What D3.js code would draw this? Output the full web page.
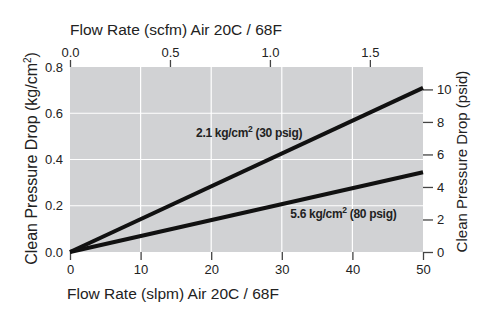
<!DOCTYPE html>
<html>
<head>
<meta charset="utf-8">
<script src="https://cdn.jsdelivr.net/npm/d3@7"></script>
<style>
  body { margin: 0; background: #fff; }
  svg text { font-family: "Liberation Sans", Arial, sans-serif; fill: #222; }
</style>
</head>
<body>
<div id="viz"></div>
<script>
// dimensions and margin of the svg
const width = 500
const height = 332
const margin = {left: 70, top: 67, right: 77, bottom: 80}

const g_width = width - margin.left - margin.right;
const g_height = height - margin.top - margin.bottom;

// data: flow (slpm) vs pressure drop (kg/cm2)
const flowSlpm = [0, 50];
const drop30psig = [0, 0.71];
const drop80psig = [0, 0.345];
const seriesLabels = ["2.1 kg/cm", "5.6 kg/cm"];
const seriesSuffix = [" (30 psig)", " (80 psig)"];
const labelAt = [[17.85, 0.497], [31.2, 0.147]];

const bottomTicks = [0, 10, 20, 30, 40, 50];
const leftTicks = [0, 0.2, 0.4, 0.6, 0.8];
const rightTicks = [0, 2, 4, 6, 8, 10];
const topTicks = [0, 0.5, 1.0, 1.5];

var svg = d3.select("#viz")
        .append("svg")
        .attr("width", width)
        .attr("height", height)
        .append("g")
        .attr("transform", "translate(" + margin.left + "," + margin.top + ")");

// scales
const x = d3.scaleLinear().domain([0, 50]).range([0, g_width]);
const y = d3.scaleLinear().domain([0, 0.8]).range([g_height, 0]);
const xTop = d3.scaleLinear().domain([0, 50 / 28.317]).range([0, g_width]);
const yRight = d3.scaleLinear().domain([0, 0.8 * 14.223]).range([g_height, 0]);

// plot background
svg.append("rect")
    .attr("width", g_width)
    .attr("height", g_height)
    .attr("fill", "#d1d2d4");

// grid
svg.append("g").selectAll("line")
    .data(bottomTicks.slice(1, -1))
    .enter().append("line")
    .attr("x1", d => x(d)).attr("x2", d => x(d))
    .attr("y1", 0).attr("y2", g_height)
    .attr("stroke", "#fff").attr("stroke-width", 1.2);
svg.append("g").selectAll("line")
    .data(leftTicks.slice(1, -1))
    .enter().append("line")
    .attr("x1", 0).attr("x2", g_width)
    .attr("y1", d => y(d)).attr("y2", d => y(d))
    .attr("stroke", "#fff").attr("stroke-width", 1.2);

// axes
function styleAxis(g) {
    g.select(".domain").remove();
    g.selectAll("line").attr("stroke", "#444").attr("stroke-width", 1.3);
    g.selectAll("text").style("font-size", "13px").style("fill", "#222")
        .style("font-family", "Liberation Sans, Arial, sans-serif");
}

svg.append("g")
    .attr("transform", "translate(0," + g_height + ")")
    .call(d3.axisBottom(x).tickValues(bottomTicks).tickSize(8).tickPadding(5).tickFormat(d3.format("d")))
    .call(styleAxis);

svg.append("g")
    .call(d3.axisLeft(y).tickValues(leftTicks).tickSize(0).tickPadding(7).tickFormat(d3.format(".1f")))
    .call(styleAxis);

svg.append("g")
    .attr("transform", "translate(" + g_width + ",0)")
    .call(d3.axisRight(yRight).tickValues(rightTicks).tickSize(10).tickPadding(4).tickFormat(d3.format("d")))
    .call(styleAxis);

svg.append("g")
    .call(d3.axisTop(xTop).tickValues(topTicks).tickSize(7).tickPadding(3).tickFormat(d3.format(".1f")))
    .call(styleAxis);

// lines
const line = d3.line()
    .x(d => x(d[0]))
    .y(d => y(d[1]));

[drop30psig, drop80psig].forEach(function (s) {
    svg.append("path")
        .datum(flowSlpm.map((f, i) => [f, s[i]]))
        .attr("d", line)
        .attr("fill", "none")
        .attr("stroke", "#111")
        .attr("stroke-width", 4);
});

// series labels
seriesLabels.forEach(function (lab, i) {
    const t = svg.append("text")
        .attr("x", x(labelAt[i][0]))
        .attr("y", y(labelAt[i][1]))
        .style("font-size", "12px")
        .style("font-weight", "bold")
        .style("letter-spacing", "-0.3px");
    t.append("tspan").text(lab);
    t.append("tspan").attr("dy", -5).style("font-size", "8.5px").text("2");
    t.append("tspan").attr("dy", 5).text(seriesSuffix[i]);
});

// axis titles
svg.append("text")
    .attr("x", 0)
    .attr("y", -32)
    .style("font-size", "15.5px")
    .text("Flow Rate (scfm) Air 20C / 68F");

svg.append("text")
    .attr("x", -3)
    .attr("y", g_height + 47)
    .style("font-size", "15.5px")
    .text("Flow Rate (slpm) Air 20C / 68F");

const yl = svg.append("text")
    .attr("transform", "translate(-33," + (g_height / 2 - 1) + ") rotate(-90)")
    .attr("text-anchor", "middle")
    .style("font-size", "16px");
yl.append("tspan").text("Clean Pressure Drop (kg/cm");
yl.append("tspan").attr("dy", -6).style("font-size", "10px").text("2");
yl.append("tspan").attr("dy", 6).text(")");

svg.append("text")
    .attr("transform", "translate(" + (g_width + 44) + "," + (g_height / 2 + 2) + ") rotate(-90)")
    .attr("text-anchor", "middle")
    .style("font-size", "15px")
    .text("Clean Pressure Drop (psid)");
</script>
</body>
</html>
